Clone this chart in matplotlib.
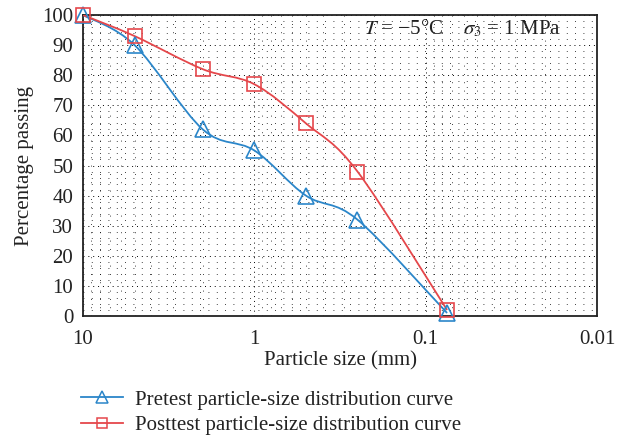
import numpy as np
import matplotlib
matplotlib.use("Agg")
import matplotlib.pyplot as plt
from matplotlib.path import Path
from matplotlib.patches import PathPatch
from matplotlib.lines import Line2D
from matplotlib.ticker import FixedLocator, MultipleLocator, FixedFormatter

# ── Data ──────────────────────────────────────────────────────────────────────
particle_size = [10, 5, 2, 1, 0.5, 0.25, 0.075]          # mm
pretest = [100, 90, 62, 55, 40, 32, 1]                    # % passing
posttest = [100, 93, 82, 77, 64, 48, 2]

x_ticks = [10, 1, 0.1, 0.01]
x_tick_labels = ["10", "1", "0.1", "0.01"]

BLUE = "#2b86c9"
RED = "#e5474b"
INK = "#222222"
FS = 15

plt.rcParams["font.family"] = ["Liberation Serif", "DejaVu Serif"]
plt.rcParams["mathtext.fontset"] = "stix"


def smooth_path(xs, ys, tension=1.0):
    """Catmull-Rom curve through the points, built in log10(x) space."""
    lx = np.log10(np.asarray(xs, dtype=float))
    y = np.asarray(ys, dtype=float)
    p = np.column_stack([lx, y])
    ext = np.vstack([p[0], p, p[-1]])
    verts = [p[0]]
    codes = [Path.MOVETO]
    for i in range(len(p) - 1):
        p0, p1, p2, p3 = ext[i], ext[i + 1], ext[i + 2], ext[i + 3]
        c1 = p1 + tension * (p2 - p0) / 6.0
        c2 = p2 - tension * (p3 - p1) / 6.0
        verts += [c1, c2, p2]
        codes += [Path.CURVE4] * 3
    verts = np.array(verts)
    verts[:, 0] = 10 ** verts[:, 0]
    return Path(verts, codes)


fig = plt.figure(figsize=(6.17, 4.36), dpi=100)
ax = fig.add_axes([83 / 617, 1 - 316 / 436, (597 - 83) / 617, (316 - 15) / 436])

ax.set_xscale("log")
ax.set_xlim(10, 0.01)
ax.set_ylim(0, 100)

# ── Curves ────────────────────────────────────────────────────────────────────
for ys, col, mk, ms in [(pretest, BLUE, "^", 11), (posttest, RED, "s", 10)]:
    ax.add_patch(PathPatch(smooth_path(particle_size, ys), fill=False,
                           edgecolor=col, lw=1.3, zorder=3))
    ax.plot(particle_size, ys, ls="none", marker=mk, ms=ms, mfc="none",
            mec=col, mew=1.2, zorder=4, clip_on=False)

# ── Axes / grid ───────────────────────────────────────────────────────────────
ax.xaxis.set_major_locator(FixedLocator(x_ticks))
ax.xaxis.set_major_formatter(FixedFormatter(x_tick_labels))
minor_x = [m * 10.0 ** e for e in (-2, -1, 0) for m in range(2, 10)]
ax.xaxis.set_minor_locator(FixedLocator(minor_x))
ax.xaxis.set_minor_formatter(FixedFormatter([""] * len(minor_x)))
ax.yaxis.set_major_locator(MultipleLocator(10))
ax.yaxis.set_minor_locator(MultipleLocator(2))

ax.grid(True, which="major", color="black", lw=0.7, ls=(0, (1, 4)))
ax.grid(True, which="minor", color="black", lw=0.6, ls=(0, (1, 9)))
ax.set_axisbelow(True)

ax.tick_params(which="both", length=0, labelsize=FS, colors=INK)
ax.tick_params(axis="x", pad=10)
ax.tick_params(axis="y", pad=7)
for sp in ax.spines.values():
    sp.set_linewidth(1.3)
    sp.set_color(INK)

ax.set_xlabel("Particle size (mm)", fontsize=FS, color=INK, labelpad=2)
ax.set_ylabel("Percentage passing", fontsize=FS, color=INK, labelpad=6)

ax.text(0.93, 0.955, r"$T$ = −5°C    $\sigma_3$ = 1 MPa", transform=ax.transAxes,
        ha="right", va="center", fontsize=FS, color=INK)

# ── Legend ────────────────────────────────────────────────────────────────────
handles = [
    Line2D([], [], color=BLUE, lw=1.3, marker="^", ms=8, mfc="none", mew=1.1),
    Line2D([], [], color=RED, lw=1.3, marker="s", ms=7, mfc="none", mew=1.1),
]
labels = ["Pretest particle-size distribution curve",
          "Posttest particle-size distribution curve"]
fig.legend(handles, labels, loc="upper left", bbox_to_anchor=(81 / 617, 1 - 390 / 436),
           frameon=False, fontsize=FS, handlelength=2.0, handletextpad=0.6,
           labelspacing=0.3, borderpad=0, borderaxespad=0, labelcolor=INK)

fig.savefig("out.png", dpi=100)
